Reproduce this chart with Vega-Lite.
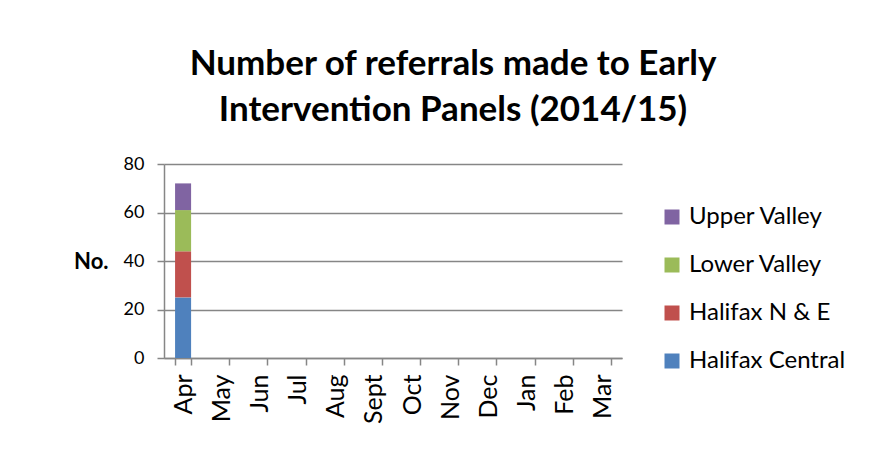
{
  "$schema": "https://vega.github.io/schema/vega-lite/v6.json",
  "autosize": {"type": "none"},
  "padding": {"left": 164, "top": 164, "right": 268, "bottom": 103},
  "width": 458,
  "height": 194,
  "background": "white",
  "title": {
    "text": ["Number of referrals made to Early", "Intervention Panels (2014/15)"],
    "anchor": "middle",
    "frame": "group",
    "dx": 60,
    "baseline": "alphabetic",
    "offset": -1,
    "lineHeight": 46,
    "font": "Lato",
    "fontSize": 35,
    "fontWeight": "bold",
    "color": "black"
  },
  "data": {
    "values": [
      {"month": "Apr", "region": "Halifax Central", "count": 25},
      {"month": "Apr", "region": "Halifax N & E", "count": 19},
      {"month": "Apr", "region": "Lower Valley", "count": 17},
      {"month": "Apr", "region": "Upper Valley", "count": 11}
    ]
  },
  "mark": {"type": "bar"},
  "encoding": {
    "x": {
      "field": "month",
      "type": "nominal",
      "scale": {
        "domain": ["Apr", "May", "Jun", "Jul", "Aug", "Sept", "Oct", "Nov", "Dec", "Jan", "Feb", "Mar"],
        "paddingInner": 0.58,
        "paddingOuter": 0.29
      },
      "axis": {
        "title": null,
        "labelAngle": -90,
        "labelAlign": "right",
        "labelBaseline": "middle",
        "labelPadding": 9,
        "labelFont": "Lato",
        "labelFontSize": 25,
        "labelColor": "black",
        "tickBand": "extent",
        "tickSize": 7,
        "tickColor": "#868686",
        "domainColor": "#868686",
        "domainWidth": 1.5,
        "tickWidth": 1.5,
        "grid": false
      }
    },
    "y": {
      "field": "count",
      "type": "quantitative",
      "stack": "zero",
      "scale": {"domain": [0, 80], "nice": false},
      "axis": {
        "values": [0, 20, 40, 60, 80],
        "title": "No.",
        "titleAngle": 0,
        "titleAlign": "right",
        "titleBaseline": "middle",
        "titleX": -56,
        "titleY": 97,
        "titleFont": "Lato",
        "titleFontSize": 22,
        "titleFontWeight": "bold",
        "titleColor": "black",
        "labelFont": "Lato",
        "labelFontSize": 18,
        "labelColor": "black",
        "labelPadding": 13,
        "tickSize": 7,
        "tickColor": "#868686",
        "tickWidth": 1.5,
        "domainColor": "#868686",
        "domainWidth": 1.5,
        "gridColor": "#868686",
        "gridWidth": 1.5
      }
    },
    "color": {
      "field": "region",
      "type": "nominal",
      "scale": {
        "domain": ["Upper Valley", "Lower Valley", "Halifax N & E", "Halifax Central"],
        "range": ["#8064A2", "#9BBB59", "#C0504D", "#4F81BD"]
      },
      "legend": {
        "title": null,
        "orient": "none",
        "legendX": 496,
        "legendY": 41,
        "symbolType": "square",
        "symbolSize": 225,
        "symbolStrokeWidth": 0,
        "labelFont": "Lato",
        "labelFontSize": 24,
        "labelColor": "black",
        "labelOffset": 5,
        "rowPadding": 24
      }
    },
    "order": {"field": "region", "sort": "ascending"}
  },
  "config": {"view": {"stroke": null}}
}
